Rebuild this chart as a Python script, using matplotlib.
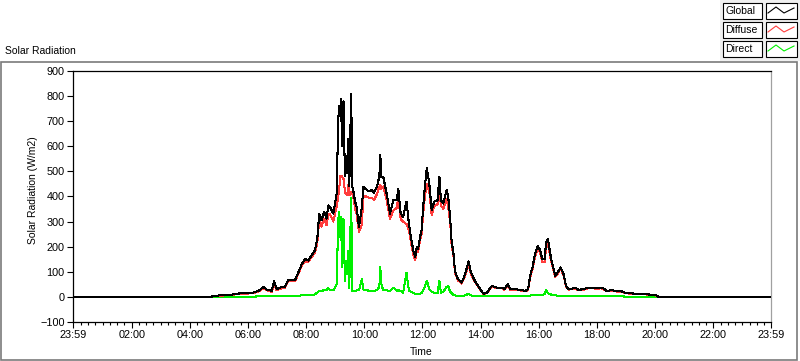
import matplotlib
matplotlib.use("Agg")
import matplotlib.pyplot as plt
from matplotlib.patches import Rectangle
from matplotlib.lines import Line2D

times = ["04:45", "04:47", "05:02", "05:23", "05:46", "06:10", "06:25", "06:31", "06:39", "06:49",
         "06:54", "06:59", "07:06", "07:16", "07:23", "07:37", "07:44", "07:51", "07:58", "08:04",
         "08:11", "08:18", "08:23", "08:27", "08:32", "08:37", "08:42", "08:46", "08:49", "08:56",
         "09:03", "09:06", "09:08", "09:10", "09:12", "09:14", "09:17", "09:20", "09:22", "09:25",
         "09:27", "09:29", "09:31", "09:33", "09:35", "09:37", "09:41", "09:44", "09:49", "09:55",
         "09:58", "10:05", "10:10", "10:15", "10:20", "10:26", "10:31", "10:33", "10:35", "10:39",
         "10:46", "10:53", "11:00", "11:07", "11:10", "11:15", "11:20", "11:27", "11:32", "11:36",
         "11:41", "11:45", "11:48", "11:51", "11:55", "11:58", "12:02", "12:05", "12:07", "12:09",
         "12:14", "12:19", "12:24", "12:31", "12:35", "12:38", "12:43", "12:50", "12:53", "12:57",
         "13:00", "13:04", "13:07", "13:13", "13:21", "13:28", "13:35", "13:40", "13:48", "13:59",
         "14:06", "14:13", "14:23", "14:33", "14:44", "14:49", "14:56", "15:01", "15:11", "15:25",
         "15:32", "15:38", "15:42", "15:47", "15:52", "15:58", "16:03", "16:07", "16:12", "16:15",
         "16:19", "16:23", "16:27", "16:34", "16:39", "16:45", "16:51", "16:56", "17:01", "17:08",
         "17:15", "17:22", "17:32", "17:42", "17:53", "18:00", "18:08", "18:13", "18:20", "18:31",
         "18:41", "18:51", "19:01", "19:19", "19:29", "19:39", "19:50", "20:00", "20:07"]

global_rad = [0, 4, 6, 8, 15, 16, 27, 40, 29, 25,
              62, 31, 37, 40, 67, 67, 98, 131, 151, 145,
              165, 185, 232, 332, 305, 339, 312, 365, 359, 332,
              412, 700, 760, 720, 790, 600, 780, 480, 560, 494,
              630, 440, 640, 810, 440, 426, 380, 359, 278, 359,
              439, 426, 420, 426, 415, 439, 480, 566, 479, 479,
              412, 332, 385, 385, 432, 332, 318, 380, 292, 240,
              185, 158, 198, 191, 238, 265, 372, 440, 479, 513,
              452, 345, 379, 385, 479, 385, 372, 426, 399, 318,
              225, 171, 104, 71, 57, 91, 142, 98, 64, 31,
              13, 17, 44, 37, 37, 31, 51, 31, 31, 27,
              24, 31, 84, 118, 171, 202, 185, 151, 151, 218,
              229, 178, 138, 84, 98, 118, 91, 44, 31, 33,
              37, 28, 31, 37, 37, 35, 37, 34, 24, 27,
              23, 22, 15, 13, 13, 11, 9, 8, 0]

diffuse_rad = [0, 3, 5, 7, 13, 14, 24, 36, 26, 20,
               55, 27, 32, 36, 62, 62, 92, 124, 143, 138,
               158, 175, 215, 310, 280, 312, 285, 330, 330, 300,
               360, 400, 420, 480, 480, 480, 470, 420, 410, 405,
               446, 406, 406, 419, 415, 400, 352, 330, 258, 290,
               400, 400, 395, 395, 385, 410, 440, 445, 430, 440,
               385, 310, 345, 355, 400, 310, 300, 290, 266, 220,
               170, 147, 187, 180, 225, 250, 345, 400, 430, 450,
               420, 325, 360, 370, 420, 365, 350, 390, 360, 300,
               210, 160, 96, 66, 53, 85, 130, 90, 60, 29,
               12, 15, 41, 34, 34, 28, 46, 28, 28, 25,
               22, 28, 77, 110, 160, 190, 175, 140, 140, 195,
               210, 165, 130, 80, 92, 112, 86, 41, 29, 31,
               34, 26, 28, 34, 34, 32, 34, 31, 22, 25,
               21, 20, 14, 12, 12, 10, 8, 7, 0]

direct_rad = [0, 0, 0, 0, 0, 1, 2, 3, 3, 4,
              5, 4, 4, 4, 4, 5, 5, 6, 6, 7,
              7, 10, 18, 24, 24, 27, 27, 35, 26, 26,
              50, 300, 339, 240, 320, 120, 310, 64, 145, 91,
              185, 37, 238, 395, 24, 24, 24, 26, 26, 71,
              30, 26, 25, 24, 25, 26, 40, 118, 51, 26,
              26, 24, 37, 25, 26, 24, 17, 95, 26, 20,
              17, 11, 11, 11, 12, 15, 30, 40, 55, 64,
              31, 20, 17, 14, 64, 17, 20, 40, 44, 20,
              15, 8, 6, 4, 4, 6, 13, 6, 3, 2,
              2, 2, 2, 2, 2, 2, 3, 2, 2, 2,
              2, 3, 5, 7, 7, 8, 8, 9, 10, 27,
              15, 11, 8, 6, 5, 4, 4, 3, 2, 2,
              2, 2, 2, 3, 3, 2, 2, 2, 2, 2,
              2, 2, 1, 1, 1, 1, 1, 1, 0]

tick_labels = ["23:59", "02:00", "04:00", "06:00", "08:00", "10:00", "12:00",
               "14:00", "16:00", "18:00", "20:00", "22:00", "23:59"]
legend_names = ["Global", "Diffuse", "Direct"]
series_colors = ["#000000", "#ff3c3c", "#00f000"]


def to_min(s):
    h, m = s.split(":")
    return int(h) * 60 + int(m)


def tick_pos(s, i):
    if i == 0:
        return -1
    return to_min(s)


x = [-1] + [to_min(t) for t in times] + [1439]
G = [0] + global_rad + [0]
D = [0] + diffuse_rad + [0]
R = [0] + direct_rad + [0]

W, H = 800, 361
fig = plt.figure(figsize=(W / 100, H / 100), dpi=100)
FONT = "Liberation Sans"


def fx(px):
    return px / W


def fy(py):
    return 1 - py / H


# outer frame
fig.add_artist(Rectangle((fx(1), fy(360)), fx(796), 298 / H, transform=fig.transFigure,
                         fill=False, ec="#7a7a7a", lw=1.2))
# legend panel background
fig.add_artist(Rectangle((fx(720), fy(61)), fx(80), 61 / H, transform=fig.transFigure,
                         fc="#f0f0f0", ec="none", zorder=0))

ax = fig.add_axes([fx(73), fy(322), fx(771 - 73), (322 - 71) / H])
ax.plot(x, R, color=series_colors[2], lw=0.75, zorder=2, antialiased=False)
ax.plot(x, D, color=series_colors[1], lw=0.75, zorder=3, antialiased=False)
ax.plot(x, G, color=series_colors[0], lw=0.75, zorder=4, antialiased=False)

ax.set_xlim(-1, 1439)
ax.set_ylim(-100, 900)
ax.set_yticks(range(-100, 901, 100))
ax.set_xticks([tick_pos(s, i) for i, s in enumerate(tick_labels)])
ax.set_xticklabels(tick_labels)
minors = [m for m in range(15, 1439, 15) if m % 120 != 0]
ax.set_xticks(minors, minor=True)
ax.tick_params(axis="both", which="major", direction="out", length=4, width=0.8,
               labelsize=7.8, pad=2)
ax.tick_params(axis="x", which="minor", direction="out", length=2.5, width=0.8)
for lab in ax.get_xticklabels() + ax.get_yticklabels():
    lab.set_fontfamily(FONT)
for side in ["left", "bottom", "top"]:
    ax.spines[side].set_color("black")
    ax.spines[side].set_linewidth(0.9)
ax.spines["right"].set_color("#a0a0a0")
ax.spines["right"].set_linewidth(0.9)

fig.text(fx(33), fy(190), "Solar Radiation (W/m2)", rotation=90, ha="center", va="center",
         fontsize=7.5, family=FONT)
fig.text(fx(421), fy(352), "Time", ha="center", va="center", fontsize=7.5, family=FONT)
fig.text(fx(5), fy(51), "Solar Radiation", ha="left", va="center", fontsize=7.5, family=FONT)

# legend
row_tops = [3, 22, 41]
for name, col, top in zip(legend_names, series_colors, row_tops):
    fig.add_artist(Rectangle((fx(723), fy(top + 16)), fx(39), 16 / H, transform=fig.transFigure,
                             fc="white", ec="black", lw=0.8, zorder=5))
    fig.text(fx(725), fy(top + 8), name, ha="left", va="center", fontsize=7.5, family=FONT,
             zorder=6)
    fig.add_artist(Rectangle((fx(766), fy(top + 16)), fx(31), 16 / H, transform=fig.transFigure,
                             fc="white", ec="black", lw=0.8, zorder=5))
    lx = [768, 776, 784, 794]
    ly = [top + 10, top + 4, top + 10, top + 5]
    fig.add_artist(Line2D([fx(v) for v in lx], [fy(v) for v in ly], transform=fig.transFigure,
                          color=col, lw=0.8, zorder=6))

fig.savefig("out.png", dpi=100, facecolor="white")
